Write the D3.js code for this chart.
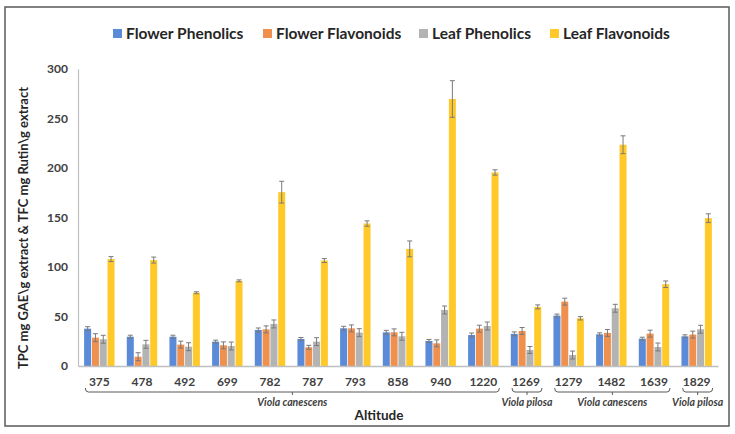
<!DOCTYPE html>
<html>
<head>
<meta charset="utf-8">
<script src="https://cdn.jsdelivr.net/npm/d3@7"></script>
<style>
  body { margin: 0; background: #fff; }
  text { font-family: Lato, "Open Sans", sans-serif; }
</style>
</head>
<body>
<div id="chart"></div>
<script>
// values
var altitudes = ["375", "478", "492", "699", "782", "787", "793", "858", "940", "1220", "1269", "1279", "1482", "1639", "1829"];
var seriesNames = ["Flower Phenolics", "Flower Flavonoids", "Leaf Phenolics", "Leaf Flavonoids"];

var flowerPhenolics  = [37.7, 29.6, 29.6, 24.6, 36.4, 27.3, 38.1, 34.0, 25.3, 31.3, 32.4, 50.9, 32.0, 27.6, 30.0];
var flowerFlavonoids = [28.6, 9.4, 21.6, 20.9, 37.0, 18.9, 38.0, 34.0, 22.9, 37.7, 35.4, 65.0, 33.4, 32.7, 31.7];
var leafPhenolics    = [27.0, 21.9, 19.5, 20.2, 42.5, 24.6, 33.7, 30.0, 56.6, 40.4, 16.2, 11.1, 58.3, 19.2, 37.1];
var leafFlavonoids   = [108, 107, 74, 86, 175.6, 106.5, 143.9, 118.3, 269.7, 195.5, 59.7, 48.2, 223.5, 82.6, 149.3];

var flowerPhenolicsErr  = [2, 1.5, 1.5, 1.5, 2, 1.5, 2, 2, 1.5, 2, 2, 1.5, 1.5, 1.5, 1.5];
var flowerFlavonoidsErr = [4, 4, 3.5, 3.5, 3.5, 2, 3.5, 3.5, 3.5, 3.5, 3.5, 3.5, 3.5, 3.5, 3.5];
var leafPhenolicsErr    = [4, 4, 4, 4, 4, 4, 4, 4, 4, 4, 3.5, 4, 4, 4, 4];
var leafFlavonoidsErr   = [2.5, 3, 1, 1, 11, 2, 2.7, 8, 18.5, 2.7, 2, 1.7, 9, 3.3, 4.4];

var yTicks = [0, 50, 100, 150, 200, 250, 300];

// species brackets under the axis: first / last altitude of each group
var speciesLabels = ["Viola canescens", "Viola pilosa", "Viola canescens", "Viola pilosa"];
var speciesFrom   = ["375", "1269", "1279", "1829"];
var speciesTo     = ["1220", "1269", "1639", "1829"];

var colors = ["#5b8bd8", "#f0904f", "#b3b3b3", "#ffc92a"];

var svgWidth = 735;
var svgHeight = 434;

var plot = { left: 78, right: 718, top: 69, bottom: 366 };

var svg = d3.select("#chart")
  .append("svg")
  .attr("width", svgWidth)
  .attr("height", svgHeight);

svg.append("rect")
  .attr("width", svgWidth)
  .attr("height", svgHeight)
  .attr("fill", "#fff");

// outer frame
svg.append("rect")
  .attr("x", 5)
  .attr("y", 7)
  .attr("width", 724)
  .attr("height", 419)
  .attr("fill", "none")
  .attr("stroke", "#5a5a5a")
  .attr("stroke-width", 1.5);

// build rows for the bars
var allValues = [flowerPhenolics, flowerFlavonoids, leafPhenolics, leafFlavonoids];
var allErrs = [flowerPhenolicsErr, flowerFlavonoidsErr, leafPhenolicsErr, leafFlavonoidsErr];
var rows = altitudes.map(function(a, i) {
  return {
    altitude: a,
    bars: seriesNames.map(function(s, j) {
      return { series: s, idx: j, value: allValues[j][i], err: allErrs[j][i] };
    })
  };
});

var x0 = d3.scaleBand()
  .domain(altitudes)
  .range([plot.left, plot.right])
  .paddingInner(0.25)
  .paddingOuter(0.125);

var x1 = d3.scaleBand()
  .domain(seriesNames)
  .range([0, x0.bandwidth()])
  .padding(0.1);

var y = d3.scaleLinear()
  .domain([0, 300])
  .range([plot.bottom, plot.top]);

// y axis
var yAxis = svg.append("g")
  .attr("transform", `translate(${plot.left}, 0)`)
  .call(d3.axisLeft(y).tickValues(yTicks).tickSize(0).tickPadding(10));

yAxis.select(".domain").attr("stroke", "#bfbfbf").attr("stroke-width", 1.2);
yAxis.selectAll("text")
  .attr("fill", "#404040")
  .attr("font-size", "12px")
  .attr("font-weight", "bold")
  .style("font-family", "Lato, sans-serif");

// bars
var groups = svg.selectAll(".group")
  .data(rows)
  .enter()
  .append("g")
  .attr("class", "group")
  .attr("transform", d => `translate(${x0(d.altitude)}, 0)`);

groups.selectAll("rect")
  .data(d => d.bars)
  .enter()
  .append("rect")
  .attr("x", d => x1(d.series))
  .attr("y", d => y(d.value))
  .attr("width", x1.bandwidth())
  .attr("height", d => y(0) - y(d.value))
  .attr("fill", d => colors[d.idx]);

// error bars
var errG = groups.selectAll(".err")
  .data(d => d.bars)
  .enter()
  .append("g")
  .attr("class", "err")
  .attr("stroke", "#7a7a7a")
  .attr("stroke-width", 1);

errG.append("line")
  .attr("x1", d => x1(d.series) + x1.bandwidth() / 2)
  .attr("x2", d => x1(d.series) + x1.bandwidth() / 2)
  .attr("y1", d => y(d.value - d.err))
  .attr("y2", d => y(d.value + d.err));

errG.append("line")
  .attr("x1", d => x1(d.series) + x1.bandwidth() / 2 - 2.5)
  .attr("x2", d => x1(d.series) + x1.bandwidth() / 2 + 2.5)
  .attr("y1", d => y(d.value + d.err))
  .attr("y2", d => y(d.value + d.err));

errG.append("line")
  .attr("x1", d => x1(d.series) + x1.bandwidth() / 2 - 2.5)
  .attr("x2", d => x1(d.series) + x1.bandwidth() / 2 + 2.5)
  .attr("y1", d => y(d.value - d.err))
  .attr("y2", d => y(d.value - d.err));

// x axis
var xAxis = svg.append("g")
  .attr("transform", `translate(0, ${plot.bottom})`)
  .call(d3.axisBottom(x0).tickSize(0).tickPadding(11));

xAxis.select(".domain").attr("stroke", "#bfbfbf").attr("stroke-width", 1.5);
xAxis.selectAll("text")
  .attr("fill", "#404040")
  .attr("font-size", "12px")
  .attr("font-weight", "bold")
  .style("font-family", "Lato, sans-serif");

// species brackets
var bracketY = 392;
speciesLabels.forEach(function(label, i) {
  var xa = x0(speciesFrom[i]) + 2;
  var xb = x0(speciesTo[i]) + x0.bandwidth();
  var xm = (xa + xb) / 2;
  svg.append("path")
    .attr("d", `M${xa},${bracketY - 4} Q${xa},${bracketY} ${xa + 3},${bracketY} L${xb - 3},${bracketY} Q${xb},${bracketY} ${xb},${bracketY - 4} M${xm},${bracketY} L${xm},${bracketY + 3}`)
    .attr("fill", "none")
    .attr("stroke", "#595959")
    .attr("stroke-width", 1);
  svg.append("text")
    .attr("x", xm)
    .attr("y", 406)
    .attr("text-anchor", "middle")
    .attr("font-size", "10.5px")
    .attr("font-style", "italic")
    .attr("font-weight", "bold")
    .attr("fill", "#404040")
    .text(label);
});

// axis titles
svg.append("text")
  .attr("x", 379)
  .attr("y", 420)
  .attr("text-anchor", "middle")
  .attr("font-size", "13.5px")
  .attr("font-weight", "bold")
  .attr("fill", "#262626")
  .text("Altitude");

svg.append("text")
  .attr("transform", `translate(28, 228) rotate(-90)`)
  .attr("text-anchor", "middle")
  .attr("font-size", "13px")
  .attr("font-weight", "bold")
  .attr("fill", "#262626")
  .text("TPC  mg GAE\\g extract & TFC mg Rutin\\g extract");

// legend
var legendX = [113, 263, 419, 550];
var legend = svg.selectAll(".legend")
  .data(seriesNames)
  .enter()
  .append("g")
  .attr("class", "legend")
  .attr("transform", (d, i) => `translate(${legendX[i]}, 29)`);

legend.append("rect")
  .attr("width", 9)
  .attr("height", 9)
  .attr("fill", (d, i) => colors[i]);

legend.append("text")
  .attr("x", 13)
  .attr("y", 9.5)
  .attr("font-size", "15.5px")
  .attr("font-weight", "bold")
  .attr("fill", "#262626")
  .text(d => d);
</script>
</body>
</html>
